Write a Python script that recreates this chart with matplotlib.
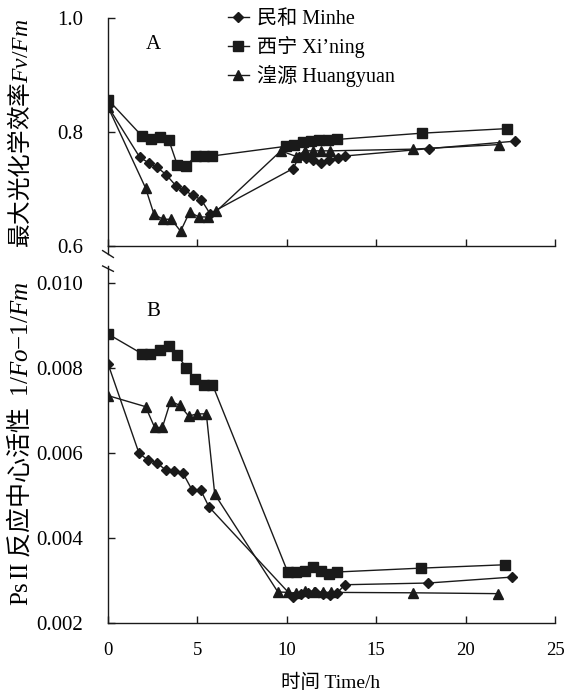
import matplotlib
matplotlib.use("Agg")
import matplotlib.pyplot as plt
from matplotlib.ticker import FormatStrFormatter, MultipleLocator

plt.rcParams['font.family'] = ['Liberation Serif', 'Noto Sans CJK SC']
plt.rcParams['mathtext.fontset'] = 'custom'
plt.rcParams['mathtext.rm'] = 'Liberation Serif'
plt.rcParams['mathtext.it'] = 'Liberation Serif:italic'

# panel A: Fv/Fm
t_minhe_a = [0, 1.77, 2.27, 2.76, 3.26, 3.79, 4.25, 4.75, 5.22, 5.7,
             10.35, 10.7, 11.1, 11.47, 11.9, 12.37, 12.87, 13.25, 17.97, 22.76]
fv_minhe = [0.845, 0.756, 0.746, 0.738, 0.725, 0.706, 0.698, 0.689, 0.681, 0.657,
            0.736, 0.757, 0.754, 0.751, 0.745, 0.751, 0.754, 0.758, 0.771, 0.784]
t_xining_a = [0, 1.9, 2.42, 2.9, 3.4, 3.88, 4.34, 4.9, 5.35, 5.84,
              9.95, 10.4, 10.9, 11.35, 11.8, 12.3, 12.8, 17.55, 22.3]
fv_xining = [0.857, 0.793, 0.788, 0.792, 0.786, 0.742, 0.740, 0.758, 0.758, 0.758,
             0.775, 0.777, 0.782, 0.785, 0.786, 0.786, 0.787, 0.798, 0.806]
t_huang_a = [0, 2.1, 2.57, 3.07, 3.54, 4.06, 4.57, 5.07, 5.6, 6.06,
             9.67, 10.54, 11.0, 11.47, 11.93, 12.4, 17.07, 21.86]
fv_huang = [0.844, 0.702, 0.656, 0.647, 0.647, 0.626, 0.660, 0.651, 0.651, 0.661,
            0.767, 0.757, 0.767, 0.767, 0.767, 0.767, 0.770, 0.778]

# panel B: 1/Fo - 1/Fm
t_minhe_b = [0, 1.73, 2.23, 2.74, 3.22, 3.71, 4.2, 4.7, 5.18, 5.65,
             10.35, 10.8, 11.2, 11.6, 12.0, 12.4, 12.8, 13.25, 17.9, 22.6]
rc_minhe = [0.0081, 0.0060, 0.00583, 0.00577, 0.0056, 0.00558, 0.00552, 0.00513, 0.00513, 0.00473,
            0.0026, 0.00268, 0.0027, 0.00272, 0.00268, 0.00266, 0.0027, 0.0029, 0.00294, 0.00308]
t_xining_b = [0, 1.92, 2.33, 2.89, 3.39, 3.88, 4.38, 4.89, 5.36, 5.84,
              10.05, 10.54, 11.0, 11.45, 11.9, 12.38, 12.83, 17.48, 22.2]
rc_xining = [0.0088, 0.00833, 0.00833, 0.00842, 0.00851, 0.00831, 0.0080, 0.00774, 0.00761, 0.00761,
             0.0032, 0.0032, 0.00323, 0.00331, 0.00323, 0.00316, 0.0032, 0.00329, 0.00337]
t_huang_b = [0, 2.1, 2.61, 3.04, 3.5, 4.01, 4.51, 5.0, 5.5, 5.97,
             9.5, 10.05, 10.5, 11.0, 11.5, 12.0, 12.45, 17.05, 21.8]
rc_huang = [0.00735, 0.00709, 0.0066, 0.0066, 0.00722, 0.00712, 0.00687, 0.00692, 0.00692, 0.00503,
            0.00273, 0.00272, 0.0027, 0.00275, 0.00274, 0.00272, 0.00272, 0.00271, 0.00269]

labels = ["民和 Minhe", "西宁 Xi\u2019ning", "湟源 Huangyuan"]
col = "#1a1a1a"
mk = dict(color=col, lw=1.0)

fig = plt.figure(figsize=(5.66, 6.97), dpi=100)
ax1 = fig.add_axes([0.1908, 0.647, 0.7898, 0.3271])
ax2 = fig.add_axes([0.1908, 0.1062, 0.7898, 0.5122])

l1, = ax1.plot(t_minhe_a, fv_minhe, marker='D', ms=5.5, **mk)
l2, = ax1.plot(t_xining_a, fv_xining, marker='s', ms=7, **mk)
l3, = ax1.plot(t_huang_a, fv_huang, marker='^', ms=7.5, **mk)
ax2.plot(t_minhe_b, rc_minhe, marker='D', ms=5.5, **mk)
ax2.plot(t_xining_b, rc_xining, marker='s', ms=7, **mk)
ax2.plot(t_huang_b, rc_huang, marker='^', ms=7.5, **mk)

for ax in (ax1, ax2):
    ax.set_xlim(0, 25)
    ax.xaxis.set_major_locator(MultipleLocator(5))
    ax.spines['top'].set_visible(False)
    ax.spines['right'].set_visible(False)
    for s in ('left', 'bottom'):
        ax.spines[s].set_linewidth(1.0)
        ax.spines[s].set_color(col)
    ax.tick_params(direction='in', length=5, width=1, color=col, labelsize=13.5)
    ax.tick_params(axis='y', pad=18, labelsize=15)
    ax.tick_params(axis='x', pad=14)

ax1.set_ylim(0.6, 1.0)
ax1.yaxis.set_major_locator(MultipleLocator(0.2))
ax1.yaxis.set_major_formatter(FormatStrFormatter('%.1f'))
ax1.tick_params(axis='x', labelbottom=False)

ax2.set_ylim(0.002, 0.0104)
ax2.set_yticks([0.002, 0.004, 0.006, 0.008, 0.010])
ax2.yaxis.set_major_formatter(FormatStrFormatter('%.3f'))

# axis break marks
ax1.plot([0, 0], [0, -0.035], transform=ax1.transAxes, color=col, lw=1, clip_on=False)
ax1.plot([-0.012, 0.012], [-0.02, -0.05], transform=ax1.transAxes, color=col, lw=1, clip_on=False)
ax2.plot([-0.012, 0.012], [1.0, 0.985], transform=ax2.transAxes, color=col, lw=1, clip_on=False)

ax1.text(2.55, 0.953, "A", fontsize=15, ha='center', va='center')
ax2.text(2.55, 0.00932, "B", fontsize=15, ha='center', va='center')

ax1.legend([l1, l2, l3], labels, loc='upper left', bbox_to_anchor=(0.25, 1.07),
           frameon=False, fontsize=14.5, handlelength=1.05, handletextpad=0.4,
           labelspacing=0.35, borderaxespad=0)

fig.text(20 / 566, 1 - 133 / 697, r"最大光化学效率$\mathit{Fv/Fm}$", rotation=90,
         ha='center', va='center', fontsize=17, family='Noto Sans CJK SC')
fig.text(20 / 566, 1 - 444 / 697,
         r"$\mathrm{Ps\,II}$ 反应中心活性  $\mathrm{1/}\mathit{Fo}\mathrm{-1/}\mathit{Fm}$",
         rotation=90, ha='center', va='center', fontsize=18, family='Noto Sans CJK SC')
fig.text(331 / 566, 1 - 683 / 697, "时间 Time/h", ha='center', va='center', fontsize=14)

fig.savefig("out.png", dpi=100)
